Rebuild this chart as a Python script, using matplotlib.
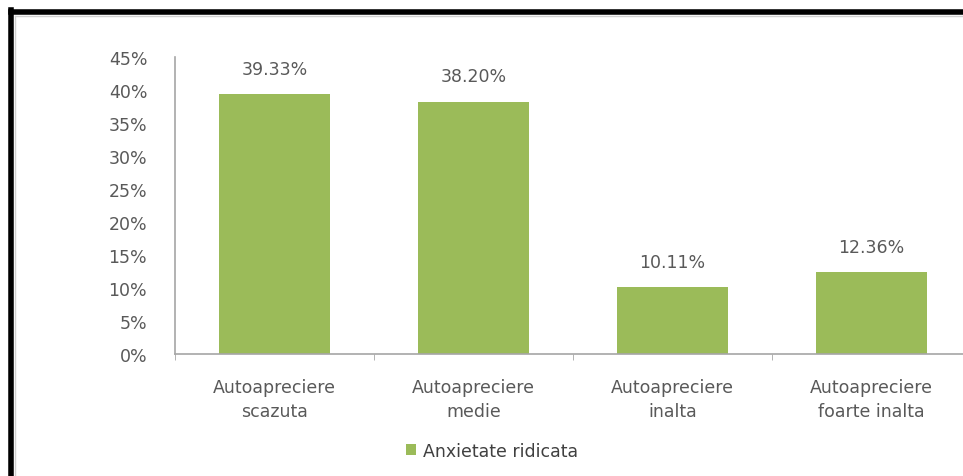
import numpy as np
import matplotlib.pyplot as plt
from matplotlib.lines import Line2D

# data
categories = ['Autoapreciere\nscazuta', 'Autoapreciere\nmedie',
              'Autoapreciere\ninalta', 'Autoapreciere\nfoarte inalta']
values = [39.33, 38.20, 10.11, 12.36]
series_name = 'Anxietate ridicata'
yticks = [0, 5, 10, 15, 20, 25, 30, 35, 40, 45]

GREEN = '#9BBB59'
TXT = '#595959'
AXC = '#A6A6A6'
FS = 12.5

plt.rcParams['font.family'] = ['DejaVu Sans']

fig = plt.figure(figsize=(9.63, 4.77), dpi=100)
ax = fig.add_axes([175 / 963, 122 / 477, 796 / 963, 297 / 477])

x = np.arange(len(values))
ax.bar(x, values, width=0.56, color=GREEN, label=series_name, zorder=2)

for xi, v in zip(x, values):
    ax.text(xi, v + 2.5, '%.2f%%' % v, ha='center', va='bottom',
            fontsize=FS, color=TXT)

ax.set_xlim(-0.5, 3.5)
ax.set_ylim(0, 45)
ax.set_yticks(yticks)
ax.set_yticklabels(['%d%%' % t for t in yticks])
ax.set_xticks(x)
ax.set_xticklabels(categories, linespacing=1.45)
ax.set_xticks(np.arange(-0.5, 4, 1), minor=True)

ax.tick_params(axis='y', length=0, pad=20, labelsize=FS, labelcolor=TXT)
ax.tick_params(axis='x', which='major', length=0, pad=17,
               labelsize=FS, labelcolor=TXT)
ax.tick_params(axis='x', which='minor', length=4, color=AXC)

for s in ['top', 'right']:
    ax.spines[s].set_visible(False)
for s in ['left', 'bottom']:
    ax.spines[s].set_color(AXC)
    ax.spines[s].set_linewidth(1.2)

leg = fig.legend(loc='center', bbox_to_anchor=(492 / 963, 1 - 452 / 477),
                 frameon=False, fontsize=FS, handlelength=0.6,
                 handleheight=0.6, handletextpad=0.4)
for t in leg.get_texts():
    t.set_color('#404040')

# frame border on top and left
fig.add_artist(Line2D([11 / 963, 1.0], [1 - 13 / 477, 1 - 13 / 477],
                      transform=fig.transFigure, color='black', lw=4))
fig.add_artist(Line2D([11 / 963, 11 / 963], [0, 1 - 11 / 477],
                      transform=fig.transFigure, color='black', lw=4))
fig.add_artist(Line2D([15 / 963, 1.0], [1 - 17 / 477, 1 - 17 / 477],
                      transform=fig.transFigure, color='#D0D0D0', lw=1))
fig.add_artist(Line2D([15 / 963, 15 / 963], [0, 1 - 17 / 477],
                      transform=fig.transFigure, color='#D0D0D0', lw=1))

fig.savefig('out.png', dpi=100)
